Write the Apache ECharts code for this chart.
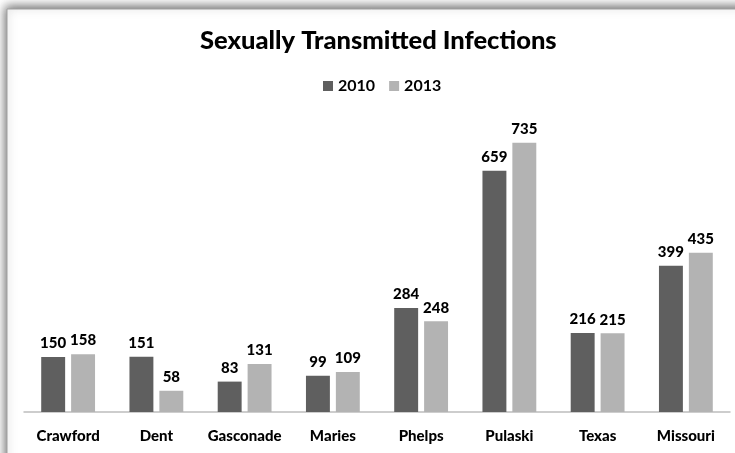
<!DOCTYPE html>
<html><head><meta charset="utf-8">
<script src="https://cdn.jsdelivr.net/npm/echarts@6/dist/echarts.min.js"></script>
<style>html,body{margin:0;padding:0;background:#fff}#c{width:735px;height:453px}</style>
</head><body><div id="c"></div>
<script>
const categories = ['Crawford','Dent','Gasconade','Maries','Phelps','Pulaski','Texas','Missouri'];
const seriesNames = ['2010','2013'];
const values2010 = [150,151,83,99,284,659,216,399];
const values2013 = [158,58,131,109,248,735,215,435];

const chart = echarts.init(document.getElementById('c'), null, {renderer:'canvas'});
const font = 'Lato, "Open Sans", sans-serif';
chart.setOption({
  animation:false,
  backgroundColor:'#fff',
  graphic:[{
    type:'rect', z:-10,
    shape:{x:7, y:9, width:760, height:480},
    style:{fill:'#fff', stroke:'#a0a0a0', lineWidth:1, shadowBlur:10, shadowColor:'rgba(0,0,0,0.6)', shadowOffsetX:-1, shadowOffsetY:-2}
  }],
  title:{text:'Sexually Transmitted Infections', left:195, top:23,
    textStyle:{fontFamily:font, fontWeight:900, fontSize:25.5, color:'#000'}},
  legend:{data:seriesNames, top:73, left:318, itemWidth:10, itemHeight:10, itemGap:14,
    textStyle:{fontFamily:font, fontSize:16, color:'#000', fontWeight:'bold'}, icon:'rect'},
  grid:{left:24, right:5, top:119, bottom:41, containLabel:false},
  xAxis:{type:'category', data:categories,
    axisLine:{lineStyle:{color:'#bdbdbd', width:1.5}}, axisTick:{show:false},
    axisLabel:{interval:0, fontFamily:font, fontWeight:900, fontSize:15, color:'#000', margin:17}},
  yAxis:{type:'value', min:0, max:800, show:false, splitLine:{show:false}},
  series:[
    {name:seriesNames[0], type:'bar', data:values2010, barGap:'25%', barCategoryGap:'39%',
     itemStyle:{color:'#5f5f5f'},
     label:{show:true, position:'top', distance:6, fontFamily:font, fontWeight:900, fontSize:15, color:'#000'}},
    {name:seriesNames[1], type:'bar', data:values2013,
     itemStyle:{color:'#b3b3b3'},
     label:{show:true, position:'top', distance:6, fontFamily:font, fontWeight:900, fontSize:15, color:'#000'}}
  ]
});
</script></body></html>
